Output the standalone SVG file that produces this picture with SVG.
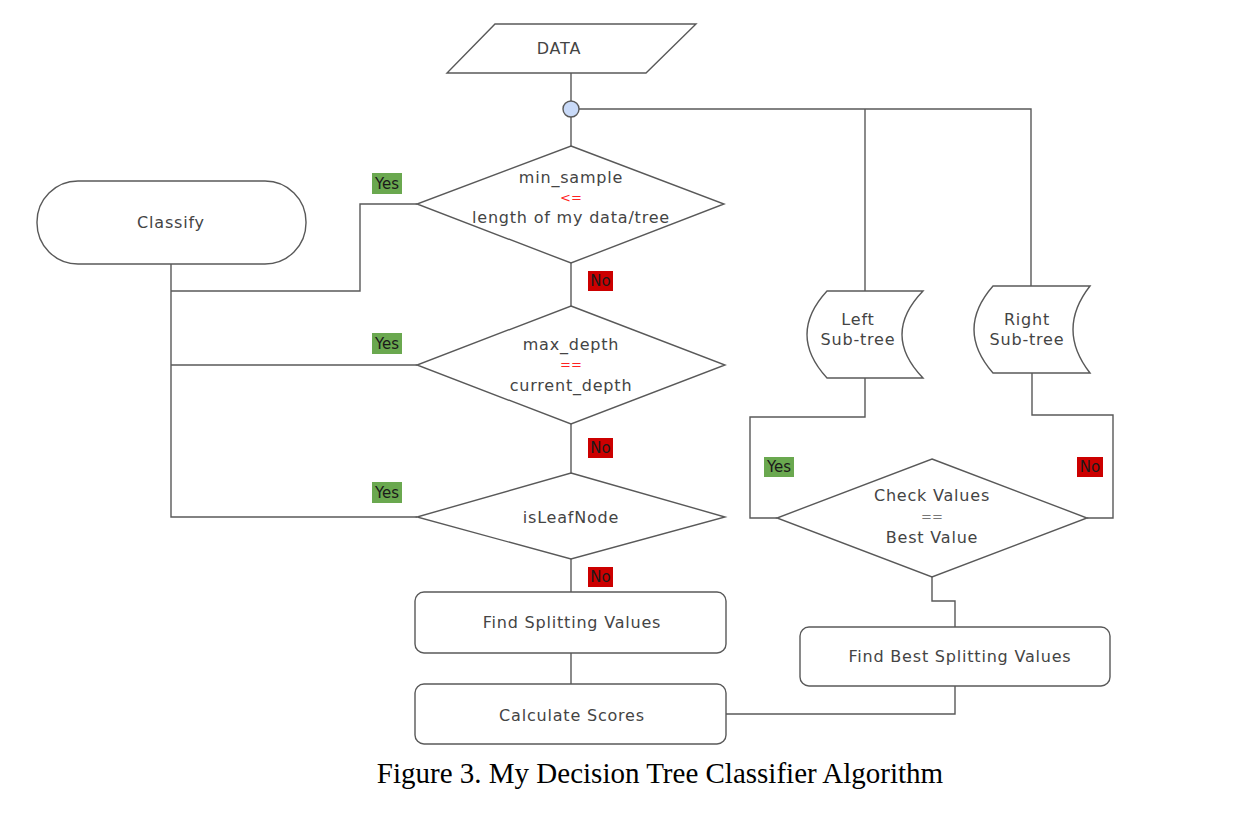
<svg xmlns="http://www.w3.org/2000/svg" width="1240" height="818" viewBox="0 0 1240 818">
<style>
.shape{fill:#ffffff;stroke:#595959;stroke-width:1.4}
.conn{fill:none;stroke:#595959;stroke-width:1.4}
.t{font-family:"DejaVu Sans","Noto Sans",sans-serif;font-size:16px;letter-spacing:0.8px;fill:#444444;text-anchor:middle;dominant-baseline:central}
.op{font-family:"DejaVu Sans","Noto Sans",sans-serif;font-size:13px;fill:#ff2222;text-anchor:middle;dominant-baseline:central}
.opg{font-family:"DejaVu Sans","Noto Sans",sans-serif;font-size:13px;fill:#777777;text-anchor:middle;dominant-baseline:central}
.yes{fill:#6aa84f}
.no{fill:#cc0000}
.lbl{font-family:"DejaVu Sans","Noto Sans",sans-serif;font-size:15px;fill:#1a1a1a;text-anchor:middle;dominant-baseline:central}
.cap{font-family:"Liberation Serif","Times New Roman",serif;font-size:29px;fill:#000000;text-anchor:middle}
</style>
<rect width="1240" height="818" fill="#ffffff"/>

<g id="connectors">
<path class="conn" d="M571,73 V101"/>
<path class="conn" d="M571,117 V146"/>
<path class="conn" d="M579,109 H1031 V286"/>
<path class="conn" d="M865,109 V291"/>
<path class="conn" d="M571,263 V306"/>
<path class="conn" d="M571,424 V473"/>
<path class="conn" d="M571,559 V592"/>
<path class="conn" d="M571,653 V684"/>
<path class="conn" d="M171,264 V517 H417"/>
<path class="conn" d="M171,291 H360 V204 H417"/>
<path class="conn" d="M171,365 H417"/>
<path class="conn" d="M865,378 V417 H750 V518 H777"/>
<path class="conn" d="M1032,373 V415 H1113 V518 H1087"/>
<path class="conn" d="M932,577 V601 H955 V627"/>
<path class="conn" d="M955,686 V714 H726"/>
</g>

<g id="data">
<polygon class="shape" points="495,24 696,24 646,73 447,73"/>
<text class="t" x="559" y="48">DATA</text>
</g>

<g id="junction">
<circle cx="571" cy="109" r="8" fill="#c9daf8" stroke="#595959" stroke-width="1.4"/>
</g>

<g id="classify">
<rect class="shape" x="37" y="181" width="269" height="83" rx="41" ry="41"/>
<text class="t" x="171" y="222">Classify</text>
</g>

<g id="dec-min-sample">
<polygon class="shape" points="571,146 724,204 571,263 417,204"/>
<text class="t" x="571" y="177">min_sample</text>
<text class="op" x="571" y="197">&lt;=</text>
<text class="t" x="571" y="217">length of my data/tree</text>
</g>

<g id="dec-max-depth">
<polygon class="shape" points="571,306 725,365 571,424 417,365"/>
<text class="t" x="571" y="344">max_depth</text>
<text class="op" x="571" y="364">==</text>
<text class="t" x="571" y="385">current_depth</text>
</g>

<g id="dec-leaf">
<polygon class="shape" points="571,473 725,517 571,559 417,517"/>
<text class="t" x="571" y="517">isLeafNode</text>
</g>

<g id="find-splitting">
<rect class="shape" x="415" y="592" width="311" height="61" rx="9"/>
<text class="t" x="572" y="622">Find Splitting Values</text>
</g>

<g id="calc-scores">
<rect class="shape" x="415" y="684" width="311" height="60" rx="9"/>
<text class="t" x="572" y="715">Calculate Scores</text>
</g>

<g id="left-subtree">
<path class="shape" d="M827,291 H923 Q881,334.5 923,378 H827 Q787,334.5 827,291 Z"/>
<text class="t" x="858" y="319">Left</text>
<text class="t" x="858" y="339">Sub-tree</text>
</g>

<g id="right-subtree">
<path class="shape" d="M993,286 H1090 Q1056,329.5 1090,373 H993 Q955,329.5 993,286 Z"/>
<text class="t" x="1027" y="319">Right</text>
<text class="t" x="1027" y="339">Sub-tree</text>
</g>

<g id="dec-check">
<polygon class="shape" points="932,459 1087,518 932,577 777,518"/>
<text class="t" x="932" y="495">Check Values</text>
<text class="opg" x="932" y="516">==</text>
<text class="t" x="932" y="537">Best Value</text>
</g>

<g id="find-best">
<rect class="shape" x="800" y="627" width="310" height="59" rx="9"/>
<text class="t" x="960" y="656">Find Best Splitting Values</text>
</g>

<g id="labels">
<rect class="yes" x="372" y="173" width="30" height="21"/>
<text class="lbl" x="387" y="183.5">Yes</text>
<rect class="yes" x="372" y="333" width="30" height="21"/>
<text class="lbl" x="387" y="343.5">Yes</text>
<rect class="yes" x="372" y="482" width="30" height="21"/>
<text class="lbl" x="387" y="492.5">Yes</text>
<rect class="no" x="588" y="271" width="25" height="20"/>
<text class="lbl" x="600.5" y="281">No</text>
<rect class="no" x="588" y="438" width="25" height="20"/>
<text class="lbl" x="600.5" y="448">No</text>
<rect class="no" x="588" y="567" width="25" height="20"/>
<text class="lbl" x="600.5" y="577">No</text>
<rect class="yes" x="764" y="457" width="30" height="20"/>
<text class="lbl" x="779" y="467">Yes</text>
<rect class="no" x="1077" y="457" width="26" height="20"/>
<text class="lbl" x="1090" y="467">No</text>
</g>

<text class="cap" x="660" y="783">Figure 3. My Decision Tree Classifier Algorithm</text>
</svg>
